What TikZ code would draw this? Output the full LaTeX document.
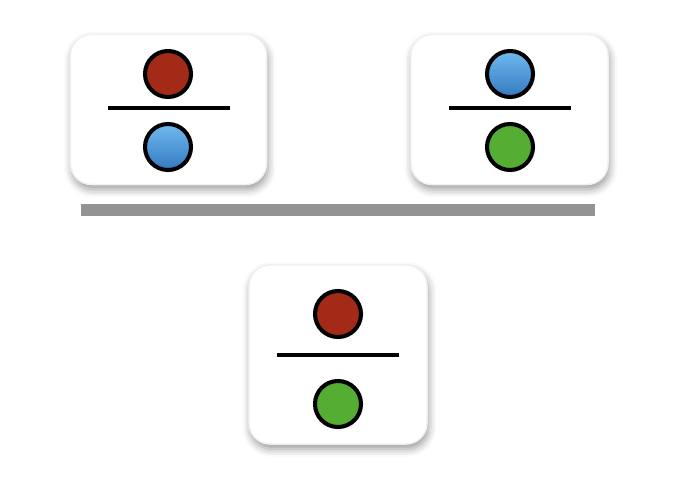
\documentclass[tikz,border=0pt]{standalone}
\usetikzlibrary{shadows.blur}
\definecolor{ballred}{HTML}{A42A18}
\definecolor{balltop}{HTML}{6FBAF0}
\definecolor{ballbot}{HTML}{3479C0}
\definecolor{ballgreen}{HTML}{55AE33}
\definecolor{bargray}{HTML}{939393}
\begin{document}
\begin{tikzpicture}[x = 0.01cm, y = -0.01cm,
    card/.style = {draw = black!6, fill = white, rounded corners = 6pt,
        blur shadow = {shadow xshift = 0.4pt, shadow yshift = -1.4pt, shadow blur radius = 2.2pt, shadow opacity = 40}},
    ball/.style = {circle, draw = black, line width = 1.15pt, minimum size = 0.46cm, inner sep = 0pt},
    redball/.style = {ball, fill = ballred},
    blueball/.style = {ball, top color = balltop, bottom color = ballbot},
    greenball/.style = {ball, fill = ballgreen},
    fracline/.style = {line width = 1.05pt}]
    \useasboundingbox (0,0) rectangle (680,494);
    % left card: red over blue
    \node[card, minimum width = 1.96cm, minimum height = 1.5cm] (leftcard) at (168.5,109.5) {};
    \node[redball] (lefttop) at (168,74) {};
    \node[blueball] (leftbot) at (168,147) {};
    \draw[fracline] (108,108) -- (230,108);
    % right card: blue over green
    \node[card, minimum width = 1.97cm, minimum height = 1.5cm] (rightcard) at (509.5,109.5) {};
    \node[blueball] (righttop) at (510,74) {};
    \node[greenball] (rightbot) at (510,147) {};
    \draw[fracline] (449,108) -- (571,108);
    % bar
    \fill[bargray] (81,204) rectangle (595,216);
    % result card: red over green
    \node[card, minimum width = 1.78cm, minimum height = 1.79cm] (resultcard) at (338,354.5) {};
    \node[redball] (resulttop) at (338,314) {};
    \node[greenball] (resultbot) at (338,404) {};
    \draw[fracline] (277,355) -- (399,355);
\end{tikzpicture}
\end{document}
